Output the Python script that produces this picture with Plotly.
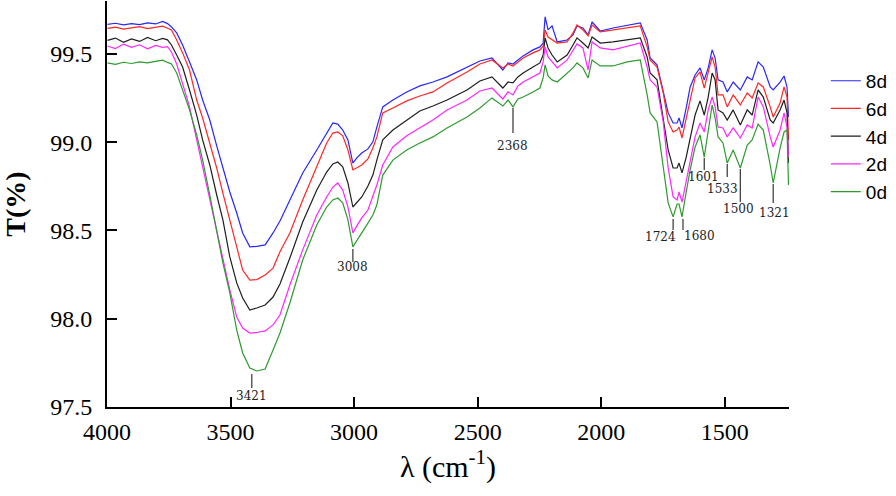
import plotly.graph_objects as go

# wavenumbers (cm-1), shared by the five spectra
wn = [3998, 3966, 3933, 3901, 3868, 3836, 3803, 3775, 3755,
      3739, 3718, 3694, 3666, 3637, 3613, 3584, 3556, 3531, 3503, 3475, 3451, 3422, 3394, 3360, 3328, 3300,
      3260, 3208, 3151, 3111, 3086, 3066, 3046, 3025, 3005, 2989, 2969, 2944, 2924, 2908, 2884, 2843, 2787,
      2734, 2681, 2624, 2543, 2491,
      2442, 2398, 2377, 2357, 2337, 2316, 2276, 2248, 2235, 2227, 2215, 2199, 2178, 2138, 2114, 2098, 2074,
      2053, 2037, 2004, 1952, 1895, 1842,
      1814, 1802, 1774, 1749, 1729, 1709, 1693, 1685, 1673, 1656, 1640, 1620, 1600, 1583, 1567, 1551, 1539,
      1527, 1507, 1490, 1466, 1437, 1409, 1389, 1365, 1344, 1316, 1304, 1276, 1260, 1248, 1242]

t_8d = [99.668, 99.674, 99.665, 99.672, 99.666, 99.676, 99.670, 99.684, 99.672,
        99.653, 99.619, 99.551, 99.455, 99.353, 99.239, 99.126, 98.979, 98.854, 98.718, 98.599, 98.486, 98.407,
        98.410, 98.418, 98.486, 98.554,
        98.673, 98.826, 98.956, 99.052, 99.109, 99.103, 99.069, 99.013, 98.882, 98.911, 98.939, 98.962, 99.002,
        99.086, 99.200, 99.239, 99.285, 99.319, 99.341, 99.370, 99.426, 99.460,
        99.477, 99.409, 99.449, 99.443, 99.466, 99.489, 99.523, 99.540, 99.562, 99.710, 99.636, 99.659, 99.568,
        99.579, 99.608, 99.659, 99.647, 99.608, 99.681, 99.630, 99.647, 99.664, 99.676,
        99.579, 99.477, 99.438, 99.296, 99.166, 99.109, 99.109, 99.137, 99.081, 99.194, 99.313, 99.381, 99.421,
        99.353, 99.421, 99.523, 99.477, 99.353, 99.341, 99.285, 99.341, 99.296, 99.370, 99.353, 99.455, 99.426,
        99.313, 99.296, 99.341, 99.375, 99.313, 99.143]

t_6d = [99.645, 99.652, 99.641, 99.648, 99.655, 99.644, 99.650, 99.657, 99.646,
        99.636, 99.579, 99.506, 99.409, 99.239, 99.137, 98.996, 98.854, 98.712, 98.560, 98.407, 98.276, 98.219,
        98.222, 98.248, 98.287, 98.380,
        98.486, 98.673, 98.860, 98.996, 99.052, 99.058, 99.036, 98.956, 98.843, 98.854, 98.871, 98.905, 98.967,
        99.030, 99.166, 99.194, 99.234, 99.262, 99.285, 99.336, 99.398, 99.443,
        99.466, 99.421, 99.443, 99.432, 99.455, 99.477, 99.506, 99.523, 99.545, 99.636, 99.596, 99.579, 99.562,
        99.568, 99.619, 99.664, 99.636, 99.602, 99.664, 99.625, 99.636, 99.647, 99.659,
        99.540, 99.466, 99.426, 99.279, 99.115, 99.058, 99.069, 99.086, 99.024, 99.126, 99.239, 99.364, 99.398,
        99.307, 99.392, 99.483, 99.426, 99.268, 99.268, 99.200, 99.268, 99.211, 99.279, 99.251, 99.336, 99.313,
        99.200, 99.143, 99.222, 99.313, 99.256, 99.013]

t_4d = [99.577, 99.590, 99.566, 99.585, 99.571, 99.594, 99.575, 99.588, 99.580,
        99.551, 99.494, 99.426, 99.296, 99.154, 99.013, 98.871, 98.701, 98.560, 98.350, 98.203, 98.117, 98.049,
        98.061, 98.078, 98.123, 98.197,
        98.344, 98.548, 98.729, 98.831, 98.877, 98.888, 98.860, 98.769, 98.633, 98.656, 98.690, 98.752, 98.814,
        98.899, 99.013, 99.069, 99.126, 99.177, 99.205, 99.239, 99.296, 99.347,
        99.370, 99.307, 99.341, 99.336, 99.370, 99.392, 99.426, 99.449, 99.494, 99.591, 99.534, 99.494, 99.455,
        99.494, 99.551, 99.591, 99.562, 99.534, 99.596, 99.562, 99.568, 99.579, 99.591,
        99.483, 99.392, 99.353, 99.143, 98.956, 98.854, 98.854, 98.882, 98.826, 98.916, 99.030, 99.154, 99.234,
        99.154, 99.256, 99.392, 99.353, 99.183, 99.166, 99.126, 99.183, 99.098, 99.183, 99.154, 99.296, 99.256,
        99.126, 99.109, 99.183, 99.239, 99.166, 98.882]

t_2d = [99.545, 99.531, 99.556, 99.538, 99.552, 99.529, 99.548, 99.537, 99.541,
        99.511, 99.443, 99.324, 99.200, 99.013, 98.860, 98.673, 98.486, 98.333, 98.163, 98.010, 97.947, 97.919,
        97.922, 97.931, 97.965, 98.021,
        98.191, 98.390, 98.588, 98.690, 98.746, 98.769, 98.729, 98.633, 98.486, 98.526, 98.571, 98.616, 98.690,
        98.758, 98.871, 98.973, 99.036, 99.081, 99.126, 99.183, 99.239, 99.290,
        99.307, 99.245, 99.285, 99.268, 99.319, 99.341, 99.370, 99.392, 99.455, 99.540, 99.483, 99.455, 99.421,
        99.466, 99.523, 99.557, 99.534, 99.409, 99.568, 99.534, 99.523, 99.545, 99.562,
        99.426, 99.353, 99.313, 99.115, 98.854, 98.690, 98.673, 98.718, 98.661, 98.775, 98.899, 99.030, 99.109,
        99.058, 99.183, 99.256, 99.200, 99.086, 99.081, 99.030, 99.081, 99.024, 99.098, 99.081, 99.256, 99.200,
        99.030, 98.973, 99.069, 99.166, 99.086, 98.916]

t_0d = [99.449, 99.441, 99.453, 99.446, 99.455, 99.449, 99.458, 99.465, 99.452,
        99.443, 99.392, 99.296, 99.183, 99.041, 98.899, 98.701, 98.503, 98.316, 98.146, 97.936, 97.806, 97.721,
        97.704, 97.715, 97.823, 97.919,
        98.089, 98.333, 98.531, 98.633, 98.673, 98.684, 98.656, 98.560, 98.407, 98.441, 98.486, 98.542, 98.588,
        98.644, 98.814, 98.899, 98.956, 98.996, 99.030, 99.081, 99.143, 99.194,
        99.251, 99.205, 99.239, 99.200, 99.245, 99.256, 99.285, 99.307, 99.364, 99.438, 99.375, 99.353, 99.341,
        99.392, 99.421, 99.449, 99.421, 99.364, 99.466, 99.432, 99.432, 99.455, 99.466,
        99.268, 99.166, 99.115, 98.871, 98.656, 98.577, 98.650, 98.650, 98.577, 98.718, 98.843, 98.973, 99.041,
        98.916, 99.052, 99.211, 99.137, 99.030, 98.996, 98.882, 98.956, 98.854, 98.984, 99.013, 99.103, 99.069,
        98.871, 98.769, 98.967, 99.058, 99.069, 98.758]

series_names = ["8d", "6d", "4d", "2d", "0d"]
series_vals = [t_8d, t_6d, t_4d, t_2d, t_0d]
colors = ["#2626ff", "#ff2626", "#1e1e1e", "#ff26ff", "#2e9a2e"]

# peak marks: label, position (cm-1), transmittance where the tick starts
peak_labels = ["3421", "3008", "2368", "1724", "1680", "1601", "1533", "1500", "1321"]
peak_wn = [3414, 3005, 2357, 1709, 1669, 1583, 1490, 1437, 1304]
peak_t = [97.687, 98.395, 99.194, 98.565, 98.565, 98.911, 98.877, 98.848, 98.763]

# tick length and label offset (px) for each peak
tick_len = [14, 13, 25, 11, 11, 12, 13, 33, 19]
lab_dy = [22, 18, 38, 18, 17, 19, 25, 40, 29]
lab_dx = [0, 0, 0, -13, 17, -1, -5, -2, 1]

serif = "Liberation Serif, Times New Roman, serif"

fig = go.Figure()
for name, vals, col in zip(series_names, series_vals, colors):
    fig.add_trace(go.Scatter(x=wn, y=vals, mode="lines", name=name,
                             line=dict(color=col, width=1.2)))

for lab, w, t, ln, dy, dx in zip(peak_labels, peak_wn, peak_t, tick_len, lab_dy, lab_dx):
    fig.add_shape(type="line", xref="x", yref="y", ysizemode="pixel", yanchor=t,
                  x0=w, x1=w, y0=0, y1=-ln, line=dict(color="#333333", width=1.2))
    fig.add_annotation(x=w, y=t, text=lab, showarrow=False, yshift=-dy, xshift=dx,
                       font=dict(family="DejaVu Serif", size=12, color="#222222"))

fig.update_layout(
    width=896, height=496,
    margin=dict(l=107, r=107, t=1, b=89, autoexpand=False),
    paper_bgcolor="white", plot_bgcolor="white",
    showlegend=True,
    legend=dict(x=1.054, y=0.85, xanchor="left", yanchor="top",
                font=dict(family="Liberation Sans", size=19, color="black"),
                bgcolor="rgba(0,0,0,0)"),
)

fig.update_xaxes(
    range=[4000, 1240], autorange=False, automargin=False,
    showline=True, linecolor="black", linewidth=2, mirror=False,
    showgrid=False, zeroline=False,
    ticks="inside", ticklen=10, tickwidth=1.5, tickcolor="black",
    tick0=4000, dtick=500, ticklabelstandoff=2,
    tickfont=dict(family=serif, size=24, color="black"),
    title=dict(text="λ (cm<sup>-1</sup>)", standoff=12,
               font=dict(family=serif, size=30, color="black")),
)

fig.update_yaxes(
    range=[97.5, 99.8], autorange=False, automargin=False,
    showline=True, linecolor="black", linewidth=2, mirror=False,
    showgrid=False, zeroline=False,
    ticks="inside", ticklen=10, tickwidth=1.5, tickcolor="black",
    tick0=97.5, dtick=0.5, tickformat=".1f", ticklabelstandoff=8,
    tickfont=dict(family=serif, size=24, color="black"),
    title=dict(text="T(%)", standoff=36,
               font=dict(family=serif, size=28, color="black", weight="bold")),
)

# the page body has a default 8px margin; drop it so the figure fills the window
fig.write_html("out.html", config={"displayModeBar": False},
               post_script="document.body.style.margin='0px';")
